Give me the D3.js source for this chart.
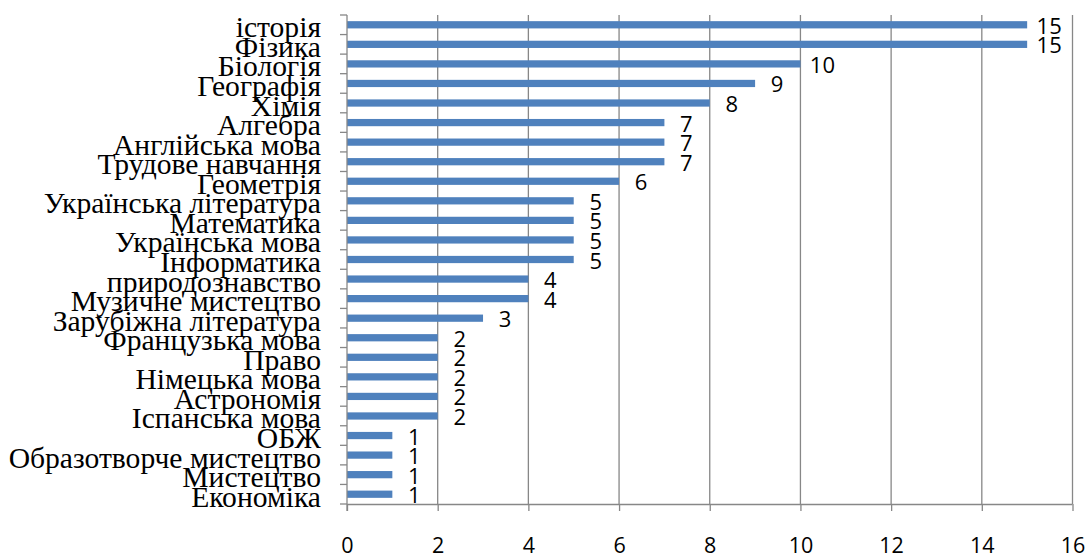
<!DOCTYPE html>
<html><head><meta charset="utf-8">
<script src="https://cdn.jsdelivr.net/npm/d3@7"></script>
<style>body{margin:0;background:#fff}svg{display:block}</style>
</head><body>
<svg id="c" width="1088" height="556"></svg>
<script>
const categories = ["історія","Фізика","Біологія","Географія","Хімія","Алгебра","Англійська мова","Трудове навчання","Геометрія","Українська література","Математика","Українська мова","Інформатика","природознавство","Музичне мистецтво","Зарубіжна література","Французька мова","Право","Німецька мова","Астрономія","Іспанська мова","ОБЖ","Образотворче мистецтво","Мистецтво","Економіка"];
const values = [15,15,10,9,8,7,7,7,6,5,5,5,5,4,4,3,2,2,2,2,2,1,1,1,1];
const xTicks = [0,2,4,6,8,10,12,14,16];

(function(){
const svg = d3.select("#c");
const mL = 347, mR = 1072.5, mT = 15, mB = 504;
const x = d3.scaleLinear().domain([0,16]).range([mL,mR]);
const y = d3.scaleBand().domain(categories).range([mT,mB]);
const grey = "#878787";

// gridlines
svg.append("g").selectAll("line").data(xTicks.slice(1)).join("line")
  .attr("x1",d=>x(d)).attr("x2",d=>x(d)).attr("y1",mT).attr("y2",mB)
  .attr("stroke",grey).attr("stroke-width",1.3);

// bars
const bh = y.bandwidth()*0.37;
svg.append("g").selectAll("rect").data(values).join("rect")
  .attr("x",x(0)).attr("y",(d,i)=>y(categories[i])+y.bandwidth()/2-bh/2)
  .attr("width",d=>x(d)-x(0)).attr("height",bh).attr("fill","#4F81BD");

// x axis
const xa = svg.append("g").attr("transform",`translate(0,${mB})`)
  .call(d3.axisBottom(x).tickValues(xTicks).tickSize(7).tickFormat(d3.format("d")));
xa.select(".domain").attr("stroke",grey).attr("stroke-width",1.3).attr("d",`M${mL},0.5H${mR}`);
xa.selectAll(".tick line").attr("stroke",grey).attr("stroke-width",1.3);
xa.selectAll(".tick text").attr("font-family","'Open Sans'").attr("font-size",21.5).attr("fill","#000").attr("y",34).attr("dy","0.71em");

// y axis
const ya = svg.append("g").attr("transform",`translate(${mL},0)`);
ya.append("line").attr("x1",0).attr("x2",0).attr("y1",mT).attr("y2",mB+7).attr("stroke",grey).attr("stroke-width",1.3);
const bounds = categories.map(c=>y(c)).concat([mB]);
ya.selectAll("line.t").data(bounds).join("line").attr("class","t")
  .attr("x1",-7).attr("x2",0).attr("y1",d=>d).attr("y2",d=>d).attr("stroke",grey).attr("stroke-width",1.3);

// category labels
svg.append("g").selectAll("text").data(categories).join("text")
  .attr("x",321).attr("y",d=>y(d)+y.bandwidth()/2+12.5)
  .attr("text-anchor","end").attr("font-family","'Liberation Serif'").attr("font-size",29.6).attr("fill","#000")
  .text(d=>d);

// value labels
svg.append("g").selectAll("text").data(values).join("text")
  .attr("x",d=>x(d)+22).attr("y",(d,i)=>y(categories[i])+y.bandwidth()/2+9)
  .attr("text-anchor","middle").attr("font-family","'Open Sans'").attr("font-size",22).attr("fill","#000")
  .text(d=>d);
})();
</script>
</body></html>
